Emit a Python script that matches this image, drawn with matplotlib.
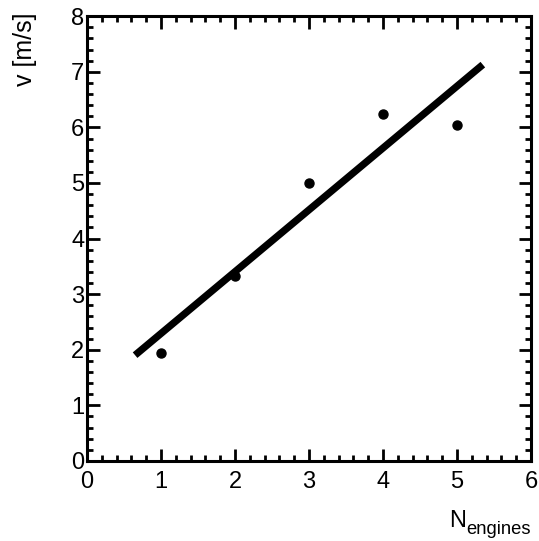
import numpy as np
import matplotlib
matplotlib.use("Agg")
import matplotlib.pyplot as plt
from matplotlib.ticker import MultipleLocator

n_engines = [1, 2, 3, 4, 5]
velocity = [1.95, 3.33, 5.00, 6.25, 6.05]
fit_range = [0.65, 5.35]

plt.rcParams['font.family'] = ['Liberation Sans', 'DejaVu Sans']

fig = plt.figure(figsize=(5.39, 5.41), dpi=100)
ax = fig.add_axes([0.1614, 0.148, 0.985 - 0.1614, 0.970 - 0.148])

slope, intercept = np.polyfit(n_engines, velocity, 1)
xf = np.array(fit_range)
ax.plot(xf, slope * xf + intercept, color='black', lw=5.2, solid_capstyle='butt')
ax.plot(n_engines, velocity, 'o', color='black', markersize=6.5)

ax.set_xlim(0, 6)
ax.set_ylim(0, 8)
ax.xaxis.set_major_locator(MultipleLocator(1))
ax.xaxis.set_minor_locator(MultipleLocator(0.2))
ax.yaxis.set_major_locator(MultipleLocator(1))
ax.yaxis.set_minor_locator(MultipleLocator(0.2))
ax.tick_params(which='both', direction='in', top=True, right=True, width=2.0, labelsize=17)
ax.tick_params(which='major', length=9)
ax.tick_params(which='minor', length=4.5)
ax.tick_params(axis='x', pad=7)
ax.tick_params(axis='y', pad=2)
for s in ax.spines.values():
    s.set_linewidth(2.2)

fig.text(0.834, 0.0259, 'N', ha='left', va='baseline', fontsize=17)
fig.text(0.984, 0.013, 'engines', ha='right', va='baseline', fontsize=13.2)
fig.text(0.046, 0.976, 'v [m/s]', ha='center', va='top', rotation=90, fontsize=18)

fig.savefig('out.png', dpi=100)
